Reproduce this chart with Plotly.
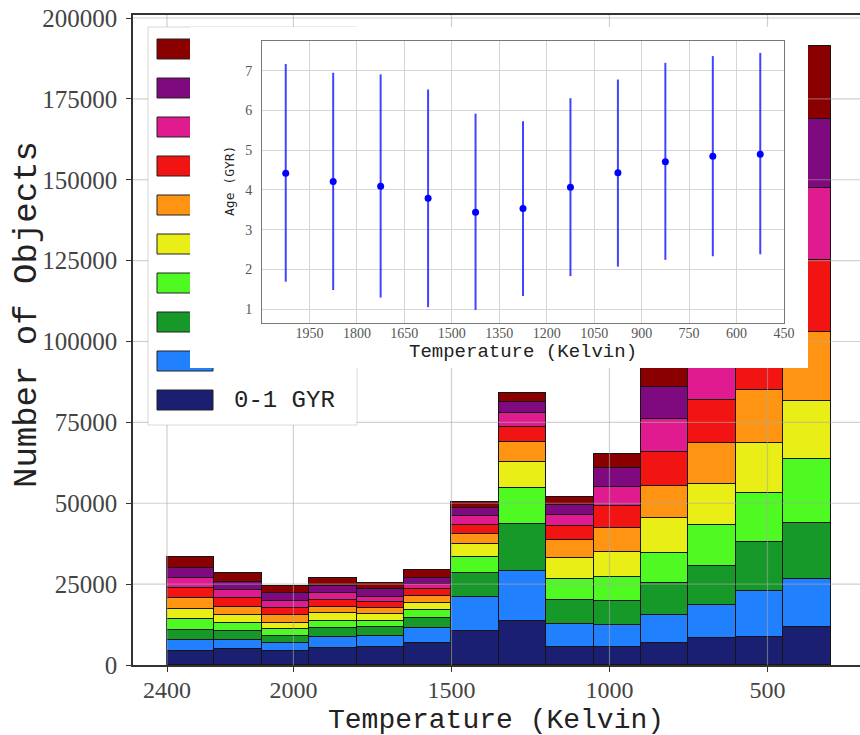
import plotly.graph_objects as go

# ---------------- data ----------------
bin_edges = [2400, 2250, 2100, 1950, 1800, 1650, 1500, 1350, 1200, 1050, 900, 750, 600, 450, 300]

age_labels = ["0-1 GYR", "1-2 GYR", "2-3 GYR", "3-4 GYR", "4-5 GYR",
              "5-6 GYR", "6-7 GYR", "7-8 GYR", "8-9 GYR", "9-10 GYR"]
age_colors = ["#1a1f71", "#2180fe", "#17992a", "#4ffa23", "#e8ee16",
              "#fe9412", "#f21313", "#df1b8f", "#7f0a80", "#8a0000"]

counts_0_1 = [4330, 4840, 4330, 5150, 5670, 6700, 10510, 13690, 5660, 5660, 6900, 8250, 8750, 11840]
counts_1_2 = [3400, 2890, 2370, 3410, 3400, 4640, 10420, 15370, 6920, 6700, 8560, 10300, 14220, 14650]
counts_2_3 = [3090, 2780, 2360, 2770, 2570, 3090, 7410, 14520, 7510, 7520, 9790, 12050, 15140, 17310]
counts_3_4 = [3400, 2370, 2070, 2370, 1960, 2570, 5140, 11040, 6490, 7410, 9460, 12670, 15150, 19780]
counts_4_5 = [3090, 2580, 1960, 2270, 2060, 2070, 3830, 8030, 6590, 7550, 10630, 12680, 15450, 18110]
counts_5_6 = [3300, 2570, 2370, 2060, 1860, 2360, 3180, 6190, 5470, 7410, 9990, 12760, 16290, 21340]
counts_6_7 = [3290, 2580, 2260, 2060, 1850, 1960, 2780, 4820, 4420, 6990, 10600, 13200, 13000, 22160]
counts_7_8 = [2890, 2570, 2060, 2270, 1750, 1540, 2690, 4330, 3310, 5870, 10010, 14000, 16000, 22160]
counts_8_9 = [3290, 2570, 2380, 2160, 2270, 2060, 2660, 3210, 3090, 5690, 9900, 12000, 13000, 21330]
counts_9_10 = [3400, 2590, 2260, 2270, 1860, 2370, 1860, 2970, 2370, 4420, 7500, 9000, 10000, 22650]

series_counts = [counts_0_1, counts_1_2, counts_2_3, counts_3_4, counts_4_5,
                 counts_5_6, counts_6_7, counts_7_8, counts_8_9, counts_9_10]

main_xticks = [2400, 2000, 1500, 1000, 500]
main_yticks = [0, 25000, 50000, 75000, 100000, 125000, 150000, 175000, 200000]

# inset: mean age per temperature bin with spread
inset_temps = [2025, 1875, 1725, 1575, 1425, 1275, 1125, 975, 825, 675, 525]
mean_age = [4.42, 4.21, 4.09, 3.79, 3.44, 3.53, 4.07, 4.43, 4.71, 4.85, 4.90]
age_upper = [7.17, 6.95, 6.91, 6.53, 5.92, 5.73, 6.31, 6.78, 7.20, 7.37, 7.45]
age_lower = [1.69, 1.48, 1.29, 1.05, 0.98, 1.33, 1.83, 2.07, 2.24, 2.33, 2.38]

inset_xticks = [1950, 1800, 1650, 1500, 1350, 1200, 1050, 900, 750, 600, 450]
inset_yticks = [1, 2, 3, 4, 5, 6, 7]

# ---------------- geometry (pixels) ----------------
W, H = 860, 735
PL, PR, PT, PB = 133, 860, 15, 665
XR = [2507.6, 207.3]
YR = [0, 200930]


def px_x(px):
    return XR[0] + (px - PL) / (PR - PL) * (XR[1] - XR[0])


def px_y(py):
    return YR[0] + (PB - py) / (PB - PT) * (YR[1] - YR[0])


def pap_x(px):
    return (px - PL) / (PR - PL)


def pap_y(py):
    return (PB - py) / (PB - PT)


centers = [(bin_edges[i] + bin_edges[i + 1]) / 2 for i in range(len(bin_edges) - 1)]
widths = [bin_edges[i] - bin_edges[i + 1] for i in range(len(bin_edges) - 1)]

fig = go.Figure()

for label, color, vals in zip(age_labels, age_colors, series_counts):
    fig.add_trace(go.Bar(
        x=centers, y=vals, width=widths, name=label,
        marker=dict(color=color, line=dict(color="#151515", width=1.2)),
        xaxis="x", yaxis="y", showlegend=False, hoverinfo="skip"))

# legend box bounds (px)
LEG_L, LEG_R, LEG_T, LEG_B = 148, 357, 27, 425

# grid drawn above bars (matplotlib axisbelow=False), skipping the legend box
gx, gy = [], []
lx0, lx1 = px_x(LEG_L), px_x(LEG_R)
ly0, ly1 = px_y(LEG_B), px_y(LEG_T)
for xv in main_xticks:
    if lx1 <= xv <= lx0:
        gx += [xv, xv, None, xv, xv, None]
        gy += [YR[0], ly0, None, ly1, YR[1], None]
    else:
        gx += [xv, xv, None]
        gy += [YR[0], YR[1], None]
for yv in main_yticks[1:]:
    if ly0 <= yv <= ly1:
        gx += [XR[0], lx0, None, lx1, XR[1], None]
        gy += [yv, yv, None, yv, yv, None]
    else:
        gx += [XR[0], XR[1], None]
        gy += [yv, yv, None]
fig.add_trace(go.Scatter(x=gx, y=gy, mode="lines",
                         line=dict(color="rgba(170,170,170,0.55)", width=1.2),
                         xaxis="x", yaxis="y", showlegend=False, hoverinfo="skip"))

# empty trace creating the white cover panel behind the inset
fig.add_trace(go.Scatter(x=[None], y=[None], xaxis="x2", yaxis="y2",
                         showlegend=False, hoverinfo="skip"))

# inset
err_plus = [u - m for u, m in zip(age_upper, mean_age)]
err_minus = [m - l for m, l in zip(mean_age, age_lower)]
fig.add_trace(go.Scatter(
    x=inset_temps, y=mean_age, mode="markers",
    marker=dict(color="#0000ff", size=7),
    error_y=dict(type="data", symmetric=False, array=err_plus, arrayminus=err_minus,
                 color="rgba(20,20,255,0.8)", thickness=2, width=0),
    xaxis="x3", yaxis="y3", showlegend=False, hoverinfo="skip"))

# ---------------- legend (manual, large swatches) ----------------
shapes = [dict(type="rect", xref="x", yref="y", layer="between",
               x0=px_x(LEG_L), x1=px_x(LEG_R), y0=px_y(LEG_B), y1=px_y(LEG_T),
               fillcolor="rgba(255,255,255,0.95)", line=dict(color="#d8d8d8", width=1))]
row_centers = [49 + 39.0 * i for i in range(10)]
for i, color in enumerate(reversed(age_colors)):
    cy = row_centers[i]
    shapes.append(dict(type="rect", xref="x", yref="y", layer="between",
                       x0=px_x(157), x1=px_x(213), y0=px_y(cy + 10), y1=px_y(cy - 10),
                       fillcolor=color, line=dict(color="#222", width=1)))

annotations = [
    dict(text=age_labels[0], xref="paper", yref="paper", x=pap_x(232), y=pap_y(row_centers[-1]),
         xanchor="left", yanchor="middle", showarrow=False,
         font=dict(family="Liberation Mono", size=24, color="#222")),
    dict(text="Number of Objects", xref="paper", yref="paper", x=pap_x(27), y=pap_y(315),
         textangle=-90, xanchor="center", yanchor="middle", showarrow=False,
         font=dict(family="Liberation Mono", size=34, color="#222")),
    dict(text="Temperature (Kelvin)", xref="paper", yref="paper", x=pap_x(496), y=pap_y(720),
         xanchor="center", yanchor="middle", showarrow=False,
         font=dict(family="Liberation Mono", size=28, color="#222")),
    dict(text="Temperature (Kelvin)", xref="paper", yref="paper", x=pap_x(523), y=pap_y(352),
         xanchor="center", yanchor="middle", showarrow=False,
         font=dict(family="Liberation Mono", size=19, color="#222")),
    dict(text="Age (GYR)", xref="paper", yref="paper", x=pap_x(229), y=pap_y(181),
         textangle=-90, xanchor="center", yanchor="middle", showarrow=False,
         font=dict(family="DejaVu Sans Mono", size=13, color="#222")),
]

tick_font = dict(family="Liberation Serif", size=25, color="#444")
xtick_font = dict(family="Liberation Serif", size=24, color="#444")
inset_tick_font = dict(family="Liberation Serif", size=14, color="#555")

fig.update_layout(
    template="none",
    width=W, height=H,
    margin=dict(l=PL, r=W - PR, t=PT, b=H - PB, pad=0, autoexpand=False),
    paper_bgcolor="white", plot_bgcolor="white",
    barmode="stack", bargap=0,
    showlegend=False,
    shapes=shapes, annotations=annotations,
    xaxis=dict(domain=[0, 1], range=XR, tickvals=main_xticks, showgrid=False, zeroline=False,
               showline=True, linecolor="#333", linewidth=1.5, mirror=True,
               ticks="outside", ticklen=5, tickcolor="#333", tickfont=xtick_font,
               ticklabelstandoff=-3, automargin=False, anchor="y"),
    yaxis=dict(domain=[0, 1], range=YR, tickvals=main_yticks, tickformat="d",
               showgrid=False, zeroline=False,
               showline=True, linecolor="#333", linewidth=1.5,
               ticks="outside", ticklen=5, tickcolor="#333", tickfont=tick_font,
               ticklabelstandoff=4, automargin=False, anchor="x"),
    xaxis2=dict(domain=[pap_x(190), pap_x(808)], visible=False, range=[0, 1], anchor="y2",
                showgrid=False, zeroline=False, automargin=False),
    yaxis2=dict(domain=[pap_y(368), pap_y(27)], visible=False, range=[0, 1], anchor="x2",
                showgrid=False, zeroline=False, automargin=False),
    xaxis3=dict(domain=[pap_x(262), pap_x(784)], range=[2100, 450], tickvals=inset_xticks,
                showgrid=True, gridcolor="#d6d6d6", gridwidth=1, zeroline=False,
                showline=True, linecolor="#777", linewidth=1, mirror=True,
                ticks="", tickfont=inset_tick_font, ticklabelstandoff=-3,
                automargin=False, anchor="y3"),
    yaxis3=dict(domain=[pap_y(323), pap_y(41)], range=[0.65, 7.75], tickvals=inset_yticks,
                showgrid=True, gridcolor="#d6d6d6", gridwidth=1, zeroline=False,
                showline=True, linecolor="#777", linewidth=1, mirror=True,
                ticks="", tickfont=inset_tick_font, ticklabelstandoff=6,
                automargin=False, anchor="x3"),
)

fig.write_html("out.html")
